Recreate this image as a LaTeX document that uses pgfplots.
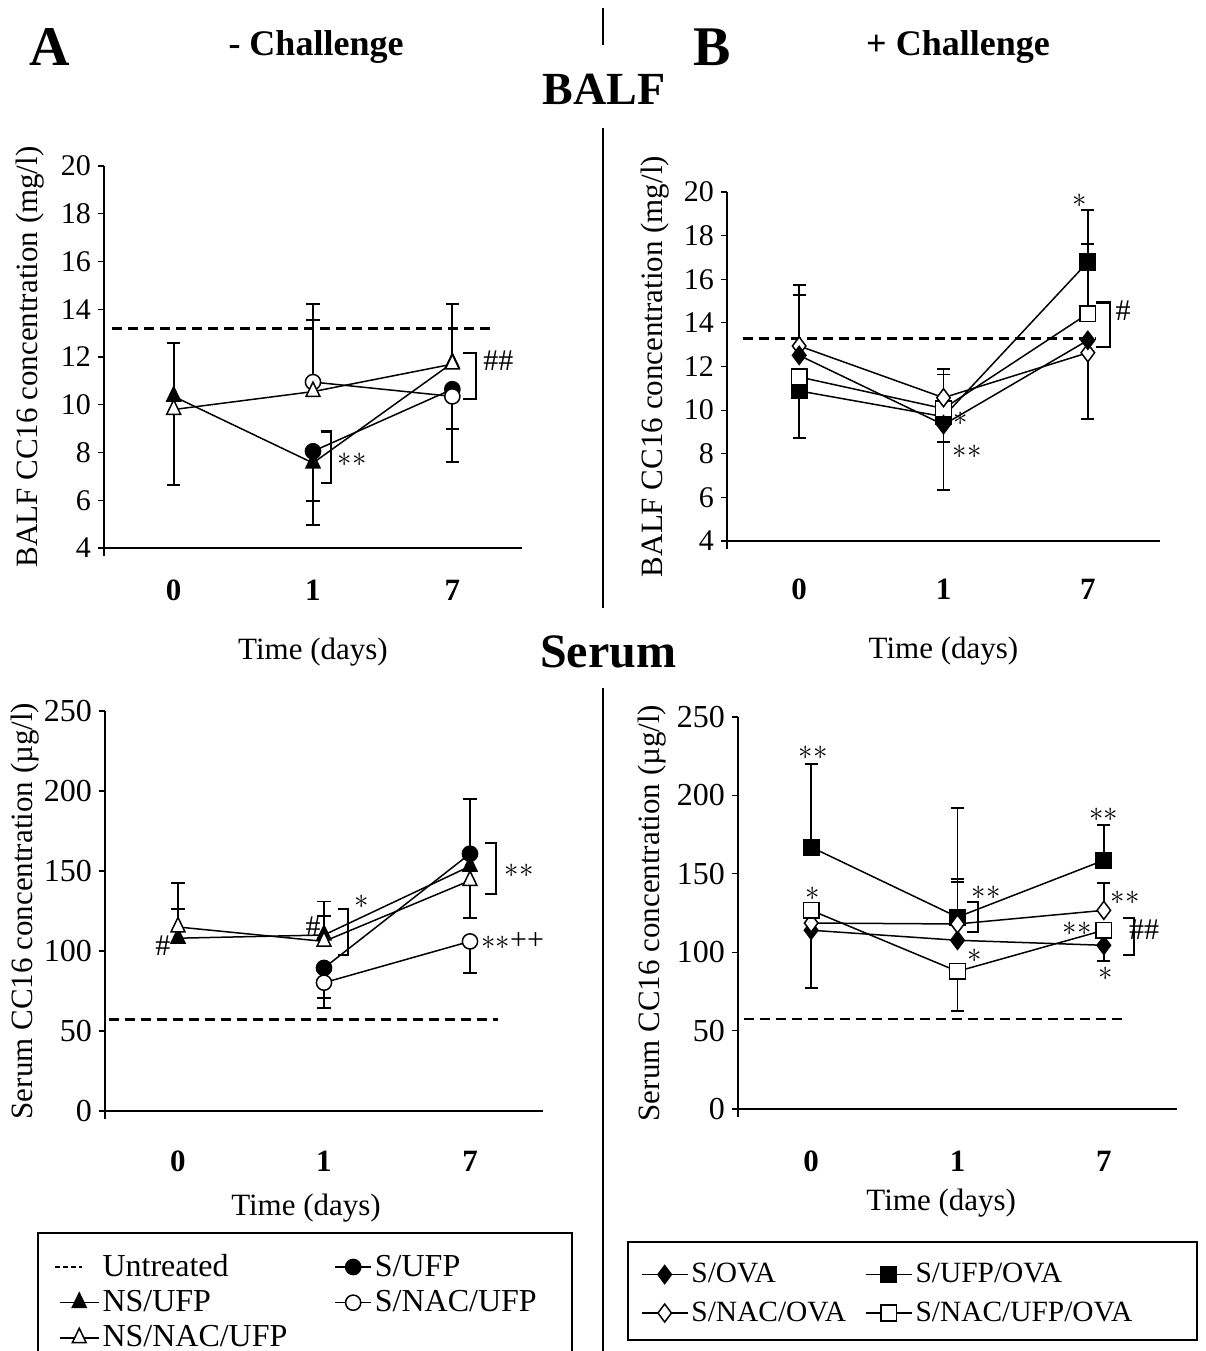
\documentclass[border=0pt]{standalone}
\usepackage{fontspec}
\setmainfont{Liberation Serif}
\usepackage{pgfplots}
\pgfplotsset{compat=1.18}
\newcommand{\as}{$\ast$}
\tikzset{
 ann/.style={font=\fontsize{15}{15}\selectfont, inner sep=0pt},
 sta/.style={font=\fontsize{13.5}{13.5}\selectfont, inner sep=0pt},
 brk/.style={black, line width=1.1pt},
}
\pgfplotsset{
 panel/.style={
  scale only axis, anchor=south west,
  axis x line*=bottom, axis y line*=left, axis line style={-, line width=0.6pt},
  y axis line style={shorten <=-4pt},
  xmin=-0.5, xmax=2.5, xtick={0,1,2}, xticklabels={0,1,7},
  xtick style={draw=none}, ytick style={line width=0.6pt, black},
  tick align=outside, major tick length=3pt,
  clip=false,
  /pgf/number format/assume math mode=true,
  label style={font=\fontsize{15.5}{15.5}\selectfont},
  legend image code/.code={\draw[mark repeat=2,mark phase=2,##1] plot coordinates {(0pt,0pt) (9.75pt,0pt) (19.5pt,0pt)};},
 },
 ebp/.style={draw=none, mark=none, forget plot, error bars/y dir=plus, error bars/y explicit,
   error bars/error bar style={draw=black, solid, line width=0.9pt},
   error bars/error mark options={rotate=90, draw=black, solid, line width=0.9pt, mark size=3.3pt}},
 ebm/.style={draw=none, mark=none, forget plot, error bars/y dir=minus, error bars/y explicit,
   error bars/error bar style={draw=black, solid, line width=0.9pt},
   error bars/error mark options={rotate=90, draw=black, solid, line width=0.9pt, mark size=3.3pt}},
 ser/.style={black, solid, line width=0.75pt},
 fTri/.style={ser, mark=triangle*, mark size=4pt, mark options={solid, fill=black, yscale=1.2}},
 oTri/.style={ser, mark=triangle*, mark size=4pt, mark options={solid, fill=white, yscale=1.2}},
 fCirc/.style={ser, mark=*, mark size=3.8pt, mark options={solid, fill=black}},
 oCirc/.style={ser, mark=*, mark size=3.8pt, mark options={solid, fill=white}},
 fSq/.style={ser, mark=square*, mark size=3.9pt, mark options={solid, fill=black}},
 oSq/.style={ser, mark=square*, mark size=3.9pt, mark options={solid, fill=white}},
 fDia/.style={ser, mark=diamond*, mark size=4.5pt, mark options={solid, fill=black}},
 oDia/.style={ser, mark=diamond*, mark size=4.5pt, mark options={solid, fill=white}},
 untr/.style={black, line width=1.2pt, dash pattern=on 5pt off 3pt},
 shortimg/.style={legend image code/.code={\draw[mark repeat=2,mark phase=2,##1] plot coordinates {(0pt,0pt) (9pt,0pt) (18pt,0pt)};}},
 longimg/.style={legend image code/.code={\draw[mark repeat=2,mark phase=2,##1] plot coordinates {(0pt,0pt) (11.5pt,0pt) (23pt,0pt)};}},
}
\begin{document}
\begin{tikzpicture}
\useasboundingbox (0pt,0pt) rectangle (603pt,675.5pt);

% dividers and titles
\draw[line width=1.2pt] (301.5pt,671.5pt) -- (301.5pt,653pt);
\draw[line width=1.2pt] (301.5pt,611.5pt) -- (301.5pt,371.5pt);
\draw[line width=1.2pt] (301.5pt,331.5pt) -- (301.5pt,0pt);
\node[font=\bfseries\fontsize{28}{28}\selectfont] at (25pt,652pt) {A};
\node[font=\bfseries\fontsize{18}{18}\selectfont] at (158pt,652pt) {- Challenge};
\node[font=\bfseries\fontsize{28}{28}\selectfont] at (356pt,652pt) {B};
\node[font=\bfseries\fontsize{18}{18}\selectfont] at (479pt,652pt) {+ Challenge};
\node[font=\bfseries\fontsize{23}{23}\selectfont] at (302pt,631pt) {BALF};
\node[font=\bfseries\fontsize{24}{24}\selectfont] at (304pt,349.5pt) {Serum};

% legend boxes
\draw[line width=0.6pt] (19pt,-2pt) -- (19pt,59pt) -- (286pt,59pt) -- (286pt,-2pt);
\draw[line width=0.6pt] (314pt,5.5pt) rectangle (598.5pt,54.5pt);

%%%%%%%%%%%%%% Panel A
\begin{axis}[panel, at={(52pt,401.5pt)}, width=209pt, height=191pt,
  ymin=4, ymax=20, ytick={4,6,...,20},
  yticklabel style={font=\fontsize{15}{15}\selectfont},
  xticklabel style={font=\bfseries\fontsize{15.5}{15.5}\selectfont, anchor=center, yshift=-18pt},
  ylabel={BALF CC16 concentration (mg/l)},
  ylabel style={at={(axis description cs:-0.177,0.5)}, anchor=center},
  xlabel={Time (days)},
  xlabel style={at={(axis description cs:0.5,0)}, anchor=center, yshift=-52pt}]
\addplot[ebp] coordinates {(0,9.8) +- (0,2.78) (1,10.55) +- (0,3.68) (1,10.95) +- (0,2.61) (2,11.7) +- (0,2.53)};
\addplot[ebm] coordinates {(0,9.8) +- (0,3.15) (1,7.56) +- (0,2.61) (1,8.05) +- (0,2.09) (2,10.35) +- (0,1.35) (2,10.65) +- (0,3.05)};
\addplot[untr] coordinates {(-0.446,13.2) (2.31,13.2)};
\addplot[fCirc] coordinates {(1,8.05) (2,10.65)};
\addplot[fTri] coordinates {(0,10.35) (1,7.56) (2,11.75)};
\addplot[oCirc] coordinates {(1,10.95) (2,10.35)};
\addplot[oTri] coordinates {(0,9.8) (1,10.55) (2,11.7)};
\draw[brk] (axis cs:1.057,8.88) -- (axis cs:1.129,8.88) -- (axis cs:1.129,6.72) -- (axis cs:1.057,6.72);
\node[sta] at (axis cs:1.28,7.7) {\as\as};
\draw[brk] (axis cs:2.077,12.16) -- (axis cs:2.17,12.16) -- (axis cs:2.17,10.24) -- (axis cs:2.077,10.24);
\node[ann] at (axis cs:2.33,11.85) {\#\#};
\end{axis}

%%%%%%%%%%%%%% Panel B
\begin{axis}[panel, at={(363.5pt,405pt)}, width=216.5pt, height=174.5pt,
  ymin=4, ymax=20, ytick={4,6,...,20},
  yticklabel style={font=\fontsize{15}{15}\selectfont},
  xticklabel style={font=\bfseries\fontsize{15.5}{15.5}\selectfont, anchor=center, yshift=-21pt},
  ylabel={BALF CC16 concentration (mg/l)},
  ylabel style={at={(axis description cs:-0.166,0.5)}, anchor=center},
  xlabel={Time (days)},
  xlabel style={at={(axis description cs:0.5,0)}, anchor=center, yshift=-55pt}]
\addplot[ebp] coordinates {(0,12.94) +- (0,2.78) (0,12.51) +- (0,2.75) (1,10.57) +- (0,1.33) (1,10.07) +- (0,1.56) (2,16.79) +- (0,2.37) (2,14.42) +- (0,3.21)};
\addplot[ebm] coordinates {(0,10.88) +- (0,2.14) (1,9.33) +- (0,0.79) (1,9.7) +- (0,3.35) (2,12.63) +- (0,3.03)};
\addplot[untr] coordinates {(-0.39,13.28) (2.06,13.28)};
\addplot[fSq] coordinates {(0,10.88) (1,9.7) (2,16.79)};
\addplot[oSq] coordinates {(0,11.52) (1,10.07) (2,14.42)};
\addplot[oDia] coordinates {(0,12.94) (1,10.57) (2,12.63)};
\addplot[fDia] coordinates {(0,12.51) (1,9.33) (2,13.2)};
\node[sta] at (axis cs:1.946,19.6) {\as};
\draw[brk] (axis cs:2.057,14.93) -- (axis cs:2.154,14.93) -- (axis cs:2.154,12.9) -- (axis cs:2.057,12.9);
\node[ann] at (axis cs:2.244,14.57) {\#};
\node[sta] at (axis cs:1.12,9.6) {\as};
\node[sta] at (axis cs:1.163,8.1) {\as\as};
\end{axis}

%%%%%%%%%%%%%% Panel C
\begin{axis}[panel, at={(52.5pt,120pt)}, width=219pt, height=200pt,
  ymin=0, ymax=250, ytick={0,50,...,250},
  yticklabel style={font=\fontsize{16}{16}\selectfont},
  xticklabel style={font=\bfseries\fontsize{15.5}{15.5}\selectfont, anchor=center, yshift=-22pt},
  ylabel={Serum CC16 concentration (µg/l)},
  ylabel style={at={(axis description cs:-0.183,0.5)}, anchor=center},
  xlabel={Time (days)},
  xlabel style={at={(axis description cs:0.459,0)}, anchor=center, yshift=-48.5pt},
  legend columns=2,
  legend cell align=left,
  legend style={at={(axis description cs:-0.117,-0.35)}, anchor=north west, draw=none, fill=none,
    font=\fontsize{16}{16}\selectfont, inner sep=0pt, row sep=2.5pt,
    nodes={inner sep=1.5pt},
    /tikz/every even column/.append style={column sep=22pt}}]
\addplot[ebp] coordinates {(0,115) +- (0,27.7) (0,108) +- (0,18.5) (1,110) +- (0,21) (1,106) +- (0,15.7) (2,160.8) +- (0,34)};
\addplot[ebm] coordinates {(1,89.4) +- (0,18.6) (1,80.2) +- (0,15.8) (2,144) +- (0,23.4) (2,106) +- (0,19.5)};
\addplot[untr, legend image code/.code={\draw[black, line width=0.6pt, dash pattern=on 2.5pt off 1.5pt] (-2.5pt,0pt) -- (11pt,0pt);}] coordinates {(-0.47,57.1) (2.19,57.1)};
\addlegendentry{Untreated}
\addplot[fCirc, shortimg] coordinates {(1,89.4) (2,160.8)};
\addlegendentry{S/UFP}
\addplot[fTri] coordinates {(0,108) (1,110) (2,153)};
\addlegendentry{NS/UFP}
\addplot[oCirc, shortimg] coordinates {(1,80.2) (2,106)};
\addlegendentry{S/NAC/UFP}
\addplot[oTri] coordinates {(0,115) (1,106) (2,144)};
\addlegendentry{NS/NAC/UFP}
\node[ann] at (axis cs:-0.103,103.5) {\#};
\node[ann] at (axis cs:0.925,115) {\#};
\node[sta] at (axis cs:1.257,131) {\as};
\draw[brk] (axis cs:1.096,126.5) -- (axis cs:1.165,126.5) -- (axis cs:1.165,97.3) -- (axis cs:1.096,97.3);
\draw[brk] (axis cs:2.10,167.7) -- (axis cs:2.18,167.7) -- (axis cs:2.18,135.8) -- (axis cs:2.10,135.8);
\node[sta] at (axis cs:2.336,150.4) {\as\as};
\node[sta, anchor=west] at (axis cs:2.075,106) {\as\as\fontsize{15}{15}\selectfont++};
\end{axis}

%%%%%%%%%%%%%% Panel D
\begin{axis}[panel, at={(369pt,121pt)}, width=219.5pt, height=196pt,
  ymin=0, ymax=250, ytick={0,50,...,250},
  yticklabel style={font=\fontsize{16}{16}\selectfont},
  xticklabel style={font=\bfseries\fontsize{15.5}{15.5}\selectfont, anchor=center, yshift=-23pt},
  ylabel={Serum CC16 concentration (µg/l)},
  ylabel style={at={(axis description cs:-0.196,0.5)}, anchor=center},
  xlabel={Time (days)},
  xlabel style={at={(axis description cs:0.463,0)}, anchor=center, yshift=-47pt},
  legend columns=2,
  legend cell align=left,
  legend style={at={(axis description cs:-0.222,-0.385)}, anchor=north west, draw=none, fill=none,
    font=\fontsize{14.7}{14.7}\selectfont, inner sep=0pt, row sep=5pt,
    nodes={inner sep=1.5pt},
    /tikz/every even column/.append style={column sep=8pt}}]
\addplot[ebp] coordinates {(0,167) +- (0,53) (1,122.4) +- (0,69.6) (1,118) +- (0,28.7) (1,107.6) +- (0,37) (2,158.6) +- (0,22.7) (2,126.7) +- (0,17.3)};
\addplot[ebm] coordinates {(0,114) +- (0,37) (1,87.8) +- (0,25.1) (2,104.4) +- (0,9.8)};
\addplot[fDia, longimg] coordinates {(0,114) (1,107.6) (2,104.4)};
\addlegendentry{S/OVA}
\addplot[fSq, longimg] coordinates {(0,167) (1,122.4) (2,158.6)};
\addlegendentry{S/UFP/OVA}
\addplot[oDia, longimg] coordinates {(0,118.6) (1,118) (2,126.7)};
\addlegendentry{S/NAC/OVA}
\addplot[oSq, longimg] coordinates {(0,126.7) (1,87.8) (2,114)};
\addlegendentry{S/NAC/UFP/OVA}
\addplot[untr] coordinates {(-0.46,57.4) (2.15,57.4)};
\node[sta] at (axis cs:0.013,227) {\as\as};
\node[sta] at (axis cs:0.013,137) {\as};
\node[sta] at (axis cs:1.195,137.8) {\as\as};
\draw[brk] (axis cs:1.065,132) -- (axis cs:1.14,132) -- (axis cs:1.14,113) -- (axis cs:1.065,113);
\node[sta] at (axis cs:1.12,97.4) {\as};
\node[sta] at (axis cs:2.0,187.7) {\as\as};
\node[sta] at (axis cs:2.145,135) {\as\as};
\node[sta] at (axis cs:1.817,114.8) {\as\as};
\node[sta] at (axis cs:2.01,86.3) {\as};
\draw[brk] (axis cs:2.132,121.8) -- (axis cs:2.207,121.8) -- (axis cs:2.207,98.4) -- (axis cs:2.132,98.4);
\node[ann] at (axis cs:2.275,114.4) {\#\#};
\end{axis}
\end{tikzpicture}
\end{document}
